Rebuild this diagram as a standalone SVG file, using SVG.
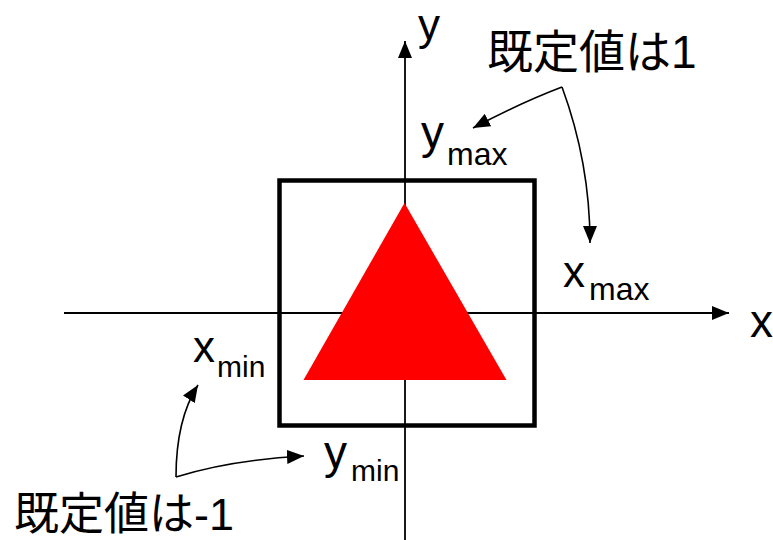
<svg xmlns="http://www.w3.org/2000/svg" width="773" height="540" viewBox="0 0 773 540">
<style>
.t{font-family:"Liberation Sans",Arial,"Noto Sans CJK JP",sans-serif;fill:#000}
.ax{stroke:#000;stroke-width:1.8;fill:none}
.cv{stroke:#000;stroke-width:1.6;fill:none}
</style>
<defs>
<marker id="ah" markerUnits="userSpaceOnUse" markerWidth="18" markerHeight="14" refX="17" refY="7" orient="auto">
<path d="M0,0 L17,7 L0,14 Z" fill="#000"/>
</marker>
</defs>
<rect width="773" height="540" fill="#fff"/>
<g id="axes">
<line class="ax" x1="64" y1="313" x2="729" y2="313" marker-end="url(#ah)"/>
<line class="ax" x1="405" y1="540" x2="405" y2="41" marker-end="url(#ah)"/>
</g>
<g id="box">
<rect x="279.5" y="180.5" width="255" height="245" fill="none" stroke="#000" stroke-width="4.5"/>
</g>
<g id="triangle">
<polygon points="404.5,203 303.5,380 506.5,380" fill="#ff0000"/>
</g>
<g id="connectors">
<path class="cv" d="M562,87 Q520,103 473,128" marker-end="url(#ah)"/>
<path class="cv" d="M562,87 C576,125 590,175 590,243" marker-end="url(#ah)"/>
<path class="cv" d="M176,477 C176,440 182,410 198,385" marker-end="url(#ah)"/>
<path class="cv" d="M176,477 Q230,460 304,456" marker-end="url(#ah)"/>
</g>
<g id="labels">
<text class="t" x="418" y="40" font-size="44">y</text>
<text class="t" x="487" y="68" font-size="46">既定値は1</text>
<text class="t" x="421" y="148" font-size="46">y</text>
<text class="t" x="447" y="165" font-size="32">max</text>
<text class="t" x="563" y="287" font-size="44">x</text>
<text class="t" x="589" y="300" font-size="32">max</text>
<text class="t" x="750" y="337" font-size="46">x</text>
<text class="t" x="193" y="362" font-size="44">x</text>
<text class="t" x="217" y="377" font-size="30">min</text>
<text class="t" x="324" y="468" font-size="46">y</text>
<text class="t" x="351" y="481" font-size="30">min</text>
<text class="t" x="14" y="530" font-size="45">既定値は-1</text>
</g>
</svg>
